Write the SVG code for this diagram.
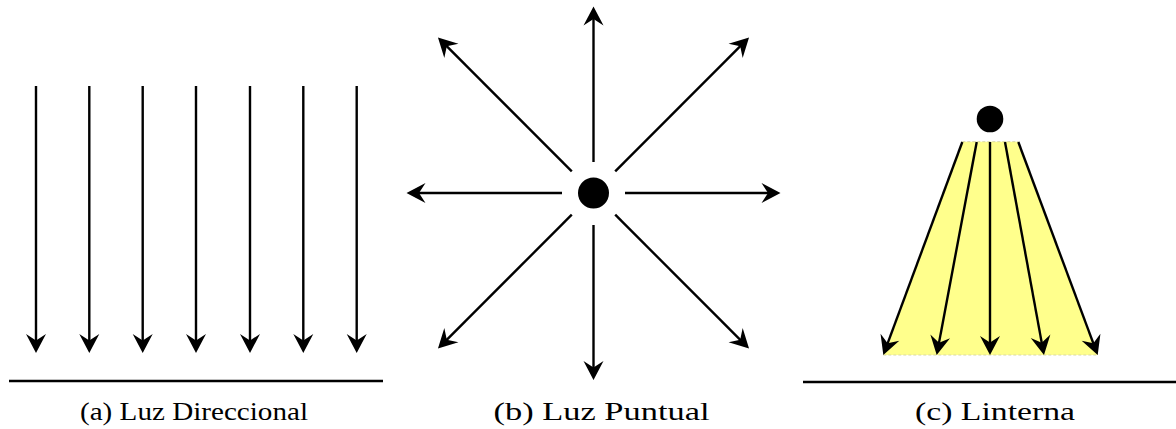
<svg xmlns="http://www.w3.org/2000/svg" width="1176" height="429" viewBox="0 0 1176 429">
  <style>
    .ray { stroke: #000; stroke-width: 2.4; fill: none; marker-end: url(#stealth); }
    .ground { stroke: #000; stroke-width: 2.6; }
    .label { font-size: 26px; fill: #000; text-anchor: middle; }
  </style>
  <defs>
    <marker id="stealth" markerUnits="userSpaceOnUse" viewBox="-21 -11 23 22" refX="-6" refY="0" markerWidth="23" markerHeight="22" orient="auto">
      <path d="M0,0 L-19,-10 L-12.5,0 L-19,10 Z" fill="#000"/>
    </marker>
  </defs>
  <rect width="1176" height="429" fill="#fff"/>

  <g id="panel-a">
    <line class="ground" x1="9" y1="381" x2="383" y2="381"/>
    <text class="label" font-family="'Liberation Serif', 'Times New Roman', serif" x="194" y="420" textLength="228" lengthAdjust="spacingAndGlyphs">(a) Luz Direccional</text>
  </g>

  <g id="panel-b">
    <circle id="point-light" cx="593.5" cy="193" r="15.5" fill="#000"/>
    <text class="label" font-family="'Liberation Serif', 'Times New Roman', serif" x="601.5" y="420" textLength="216" lengthAdjust="spacingAndGlyphs">(b) Luz Puntual</text>
  </g>

  <g id="panel-c">
    <polygon id="cone" points="962.3,141.7 1018.3,141.7 1097.7,355 883.3,355" fill="#ffff8c" stroke="#d9d9a6" stroke-width="1" stroke-dasharray="3,2"/>
    <circle id="flashlight" cx="990" cy="119" r="13.3" fill="#000"/>
    <line class="ground" x1="803" y1="382" x2="1176" y2="382"/>
    <text class="label" font-family="'Liberation Serif', 'Times New Roman', serif" x="995" y="420" textLength="160" lengthAdjust="spacingAndGlyphs">(c) Linterna</text>
  </g>

  <g id="connectors">
    <line class="ray" x1="36" y1="86" x2="36" y2="347"/>
    <line class="ray" x1="89.3" y1="86" x2="89.3" y2="347"/>
    <line class="ray" x1="142.7" y1="86" x2="142.7" y2="347"/>
    <line class="ray" x1="196" y1="86" x2="196" y2="347"/>
    <line class="ray" x1="250" y1="86" x2="250" y2="347"/>
    <line class="ray" x1="303.3" y1="86" x2="303.3" y2="347"/>
    <line class="ray" x1="356.7" y1="86" x2="356.7" y2="347"/>

    <line class="ray" x1="593.5" y1="162" x2="593.5" y2="12.5"/>
    <line class="ray" x1="593.5" y1="225" x2="593.5" y2="374"/>
    <line class="ray" x1="562" y1="193" x2="412.5" y2="193"/>
    <line class="ray" x1="625" y1="193" x2="774.5" y2="193"/>
    <line class="ray" x1="571.8" y1="171.3" x2="442.2" y2="41.7"/>
    <line class="ray" x1="615.2" y1="171.3" x2="744.8" y2="41.7"/>
    <line class="ray" x1="571.8" y1="214.7" x2="442.2" y2="344.3"/>
    <line class="ray" x1="615.2" y1="214.7" x2="744.8" y2="344.3"/>

    <line class="ray" x1="962.3" y1="142" x2="885.4" y2="349.4"/>
    <line class="ray" x1="976.7" y1="142" x2="937.8" y2="349.1"/>
    <line class="ray" x1="990" y1="142" x2="990" y2="349"/>
    <line class="ray" x1="1005" y1="142" x2="1042.9" y2="349.1"/>
    <line class="ray" x1="1018.3" y1="142" x2="1095.6" y2="349.4"/>
  </g>
</svg>
